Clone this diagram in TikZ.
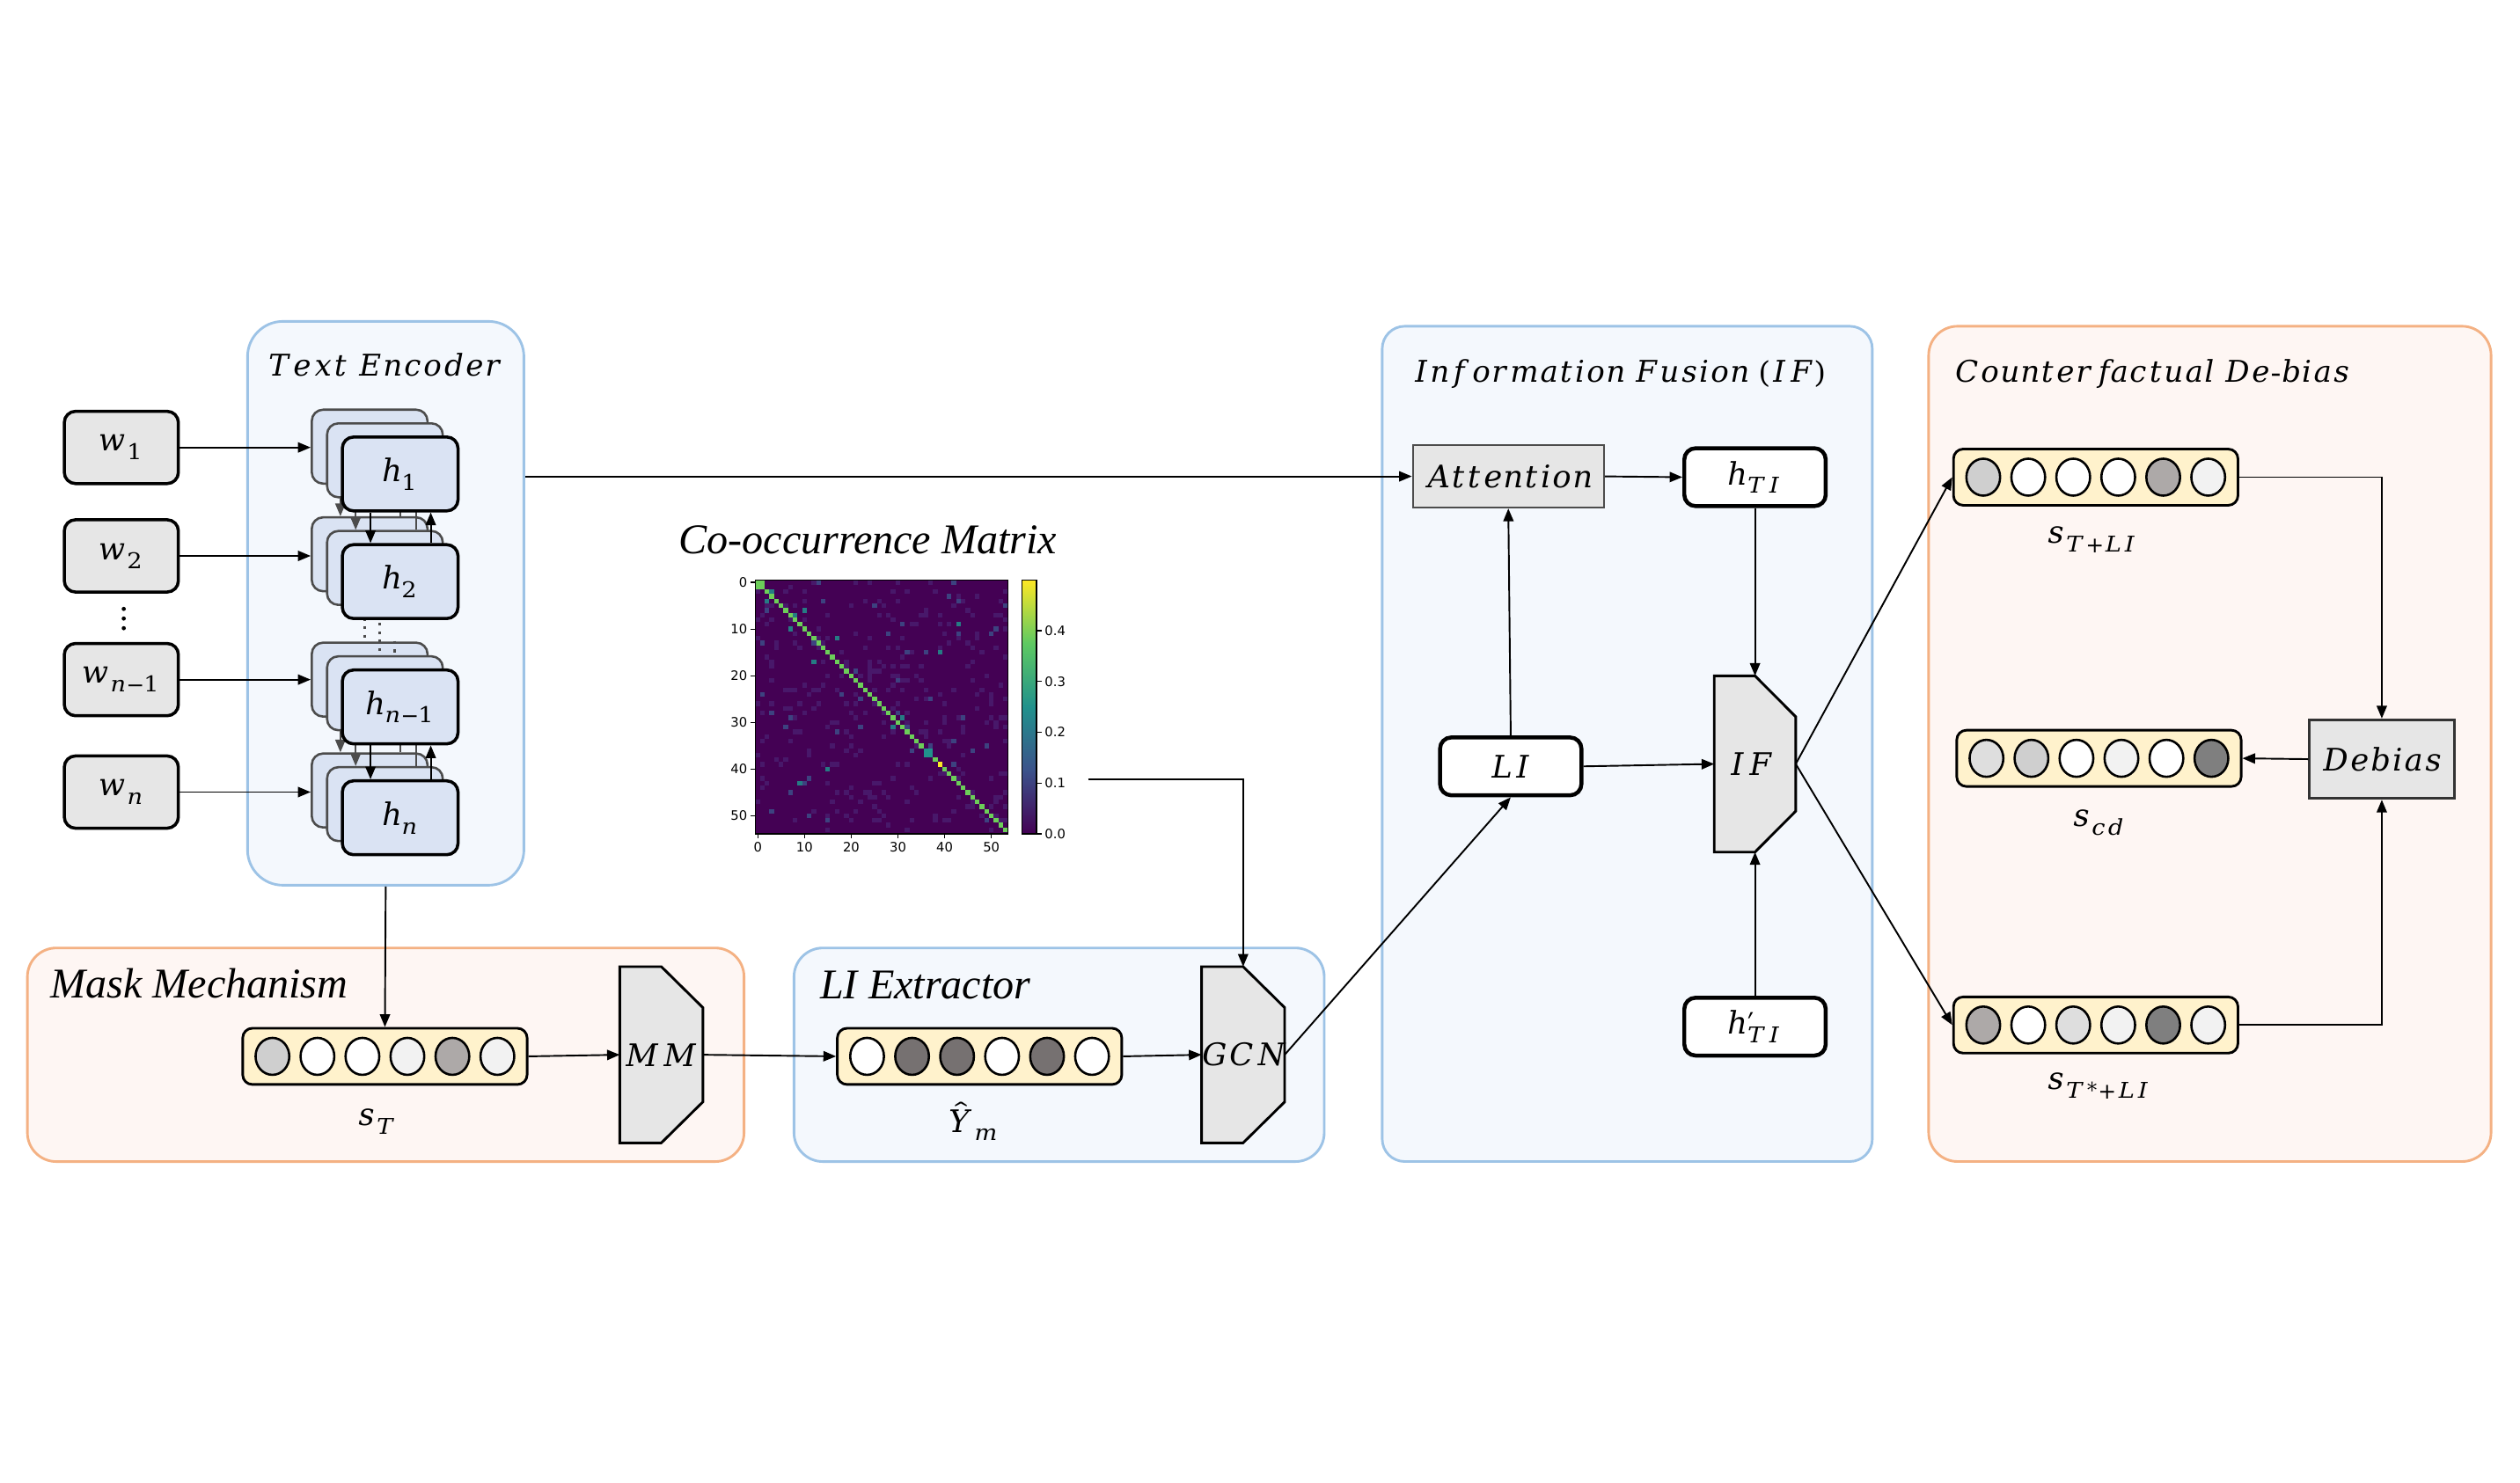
\documentclass[tikz,border=0pt]{standalone}
\usepackage{unicode-math}
\setmainfont{Liberation Serif}
\setsansfont{DejaVu Sans}
\setmathfont{DejaVu Math TeX Gyre}
\usetikzlibrary{arrows.meta,positioning,shapes.geometric}

\definecolor{panelblue}{HTML}{9DC3E6}
\definecolor{bluefill}{HTML}{F4F8FD}
\definecolor{panelorange}{HTML}{F4B183}
\definecolor{orangefill}{HTML}{FEF6F3}
\definecolor{boxgray}{HTML}{E6E6E6}
\definecolor{hblue}{HTML}{DAE3F3}
\definecolor{vecyellow}{HTML}{FFF2CC}
\definecolor{cA}{HTML}{F2F2F2}
\definecolor{cB}{HTML}{CFCFCF}
\definecolor{cC}{HTML}{ADA9A8}
\definecolor{cD}{HTML}{7F7F7F}
\definecolor{cE}{HTML}{767171}
\definecolor{cF}{HTML}{DEDEDE}
\definecolor{vir0}{HTML}{440154}
\definecolor{vir1}{HTML}{48186A}
\definecolor{virb}{HTML}{3B528B}
\definecolor{virc}{HTML}{21918C}
\definecolor{vird}{HTML}{5EC962}
\definecolor{vire}{HTML}{FDE725}
\definecolor{virg}{HTML}{6CCE59}
\pgfdeclareverticalshading{viridis}{100bp}{color(0bp)=(vir0); color(25bp)=(vir0);
  color(37.5bp)=(virb); color(50bp)=(virc); color(62.5bp)=(vird); color(75bp)=(vire);
  color(100bp)=(vire)}

\tikzset{
  bluepanel/.style={draw=panelblue, fill=bluefill, line width=0.9pt, rounded corners=0.36cm, inner sep=0pt},
  orangepanel/.style={draw=panelorange, fill=orangefill, line width=0.9pt, rounded corners=0.36cm, inner sep=0pt},
  title/.style={font=\fontsize{15}{18}\selectfont\itshape, inner sep=0pt},
  mtitle/.style={font=\fontsize{10.6}{13}\selectfont, inner sep=0pt},
  lbl/.style={font=\fontsize{11}{13}\selectfont, inner sep=0pt},
  wbox/.style={draw, line width=1.1pt, fill=boxgray, rounded corners=0.14cm, minimum width=1.42cm, minimum height=0.9cm, lbl},
  hback/.style={draw=black!70, line width=0.8pt, fill=hblue, rounded corners=0.14cm, minimum width=1.44cm, minimum height=0.92cm},
  hbox/.style={hback, draw=black, line width=1.1pt, lbl},
  plainbox/.style={draw, line width=1.4pt, fill=white, rounded corners=0.14cm, minimum width=1.76cm, minimum height=0.72cm, lbl},
  graybox/.style={draw=black!70, line width=0.6pt, fill=boxgray, lbl},
  vecbox/.style={draw, line width=0.9pt, fill=vecyellow, rounded corners=0.12cm, minimum width=3.54cm, minimum height=0.7cm},
  cell/.style={ellipse, draw, line width=0.8pt, minimum width=0.42cm, minimum height=0.46cm, inner sep=0pt},
  trapnode/.style={minimum width=1.02cm, minimum height=2.18cm, inner sep=0pt},
  trap/.style={draw, line width=0.9pt, fill=boxgray},
  arr/.style={-{Triangle[length=4.5pt,width=3.6pt]}, line width=0.6pt},
  garr/.style={arr, draw=black!70},
  tick/.style={font=\sffamily\fontsize{4.6}{5}\selectfont, inner sep=1pt},
}

\begin{document}
\begin{tikzpicture}[x=0.02cm,y=-0.02cm]
\useasboundingbox (0,0) rectangle (1568,923);

% panels
\node[bluepanel, rounded corners=0.44cm, minimum width=3.44cm, minimum height=7.02cm] (te) at (240,375.5) {};
\node[orangepanel, minimum width=8.92cm, minimum height=2.66cm] (mmp) at (240,656.5) {};
\node[bluepanel, minimum width=6.6cm, minimum height=2.66cm] (lip) at (659,656.5) {};
\node[bluepanel, rounded corners=0.28cm, minimum width=6.1cm, minimum height=10.4cm] (ifp) at (1012.5,463) {};
\node[orangepanel, minimum width=7cm, minimum height=10.4cm] (cdp) at (1375,463) {};

\node[mtitle] (tet) at (240,227) {$Text\ Encoder$};
\node[title, anchor=west] (mmt) at (31,612) {Mask Mechanism};
\node[title, anchor=west] (lit) at (510,613) {LI Extractor};
\node[title] (cot) at (540,336) {Co-occurrence Matrix};
\node[mtitle] (ift) at (1008,233) {$Information\ Fusion\ (IF)$};
\node[mtitle, anchor=west] (cdt) at (1216,233) {$Counterf\mkern-4mu actual\ De\text{-}bias$};

% words
\foreach \n/\y/\t in {1/278.5/w_1, 2/346/w_2, 3/423/w_{n-1}, 4/493/w_n}
  \node[wbox] (w\n) at (75.5,\y) {$\t$};
\foreach \d in {379,385,391}
  \fill (77,\d) circle (1.3);

% encoder stacks: back, middle, front
\foreach \n/\y in {1/295, 2/362, 3/440, 4/509}
  \node[hback] (ha\n) at (230,{\y-17}) {};
\foreach \u/\l in {1/2, 3/4} {
  \draw[garr] ([xshift=0.37cm]ha\u.south west) -- ([xshift=0.37cm]ha\l.north west);
  \draw[draw=black!70, line width=0.6pt] ([xshift=1.12cm]ha\l.north west) -- ([xshift=1.12cm]ha\u.south west);
}
\draw[dotted, line width=1pt, black!70] ([xshift=0.67cm]ha2.south west) -- ([xshift=0.67cm]ha3.north west);
\foreach \n/\y in {1/295, 2/362, 3/440, 4/509}
  \node[hback] (hb\n) at (239.5,{\y-8.5}) {};
\foreach \u/\l in {1/2, 3/4} {
  \draw[garr] ([xshift=0.37cm]hb\u.south west) -- ([xshift=0.37cm]hb\l.north west);
  \draw[draw=black!70, line width=0.6pt] ([xshift=1.12cm]hb\l.north west) -- ([xshift=1.12cm]hb\u.south west);
}
\draw[dotted, line width=1pt, black!70] ([xshift=0.67cm]hb2.south west) -- ([xshift=0.67cm]hb3.north west);
\foreach \n/\y/\t in {1/295/h_1, 2/362/h_2, 3/440/h_{n-1}, 4/509/h_n}
  \node[hbox] (h\n) at (249,\y) {$\t$};
\foreach \u/\l in {1/2, 3/4} {
  \draw[arr] ([xshift=0.37cm]h\u.south west) -- ([xshift=0.37cm]h\l.north west);
  \draw[arr] ([xshift=1.12cm]h\l.north west) -- ([xshift=1.12cm]h\u.south west);
}
\draw[dotted, line width=1pt, black!70] ([xshift=0.67cm,yshift=-0.26cm]h2.south west) -- ([xshift=0.67cm,yshift=0.14cm]h3.north west);
\foreach \n in {1,...,4}
  \draw[arr] (w\n.east) -- (w\n.east -| ha\n.west);

% vectors
\node[vecbox] (sT) at (239.5,657.5) {};
\foreach \c [count=\k] in {cB,white,white,cA,cC,cA}
  \node[cell, fill=\c] (sT\k) at ([xshift={(\k-3.5)*0.56cm}]sT.center) {};
\node[lbl] (sTl) at (235,698) {$s_T$};

\node[vecbox] (ym) at (609.5,657.5) {};
\foreach \c [count=\k] in {white,cE,cE,white,cE,white}
  \node[cell, fill=\c] (ym\k) at ([xshift={(\k-3.5)*0.56cm}]ym.center) {};
\node[lbl] (yml) at (606,698) {$\hat{Y}_m$};

\node[vecbox] (stli) at (1304,297) {};
\foreach \c [count=\k] in {cB,white,white,white,cC,cA}
  \node[cell, fill=\c] (stli\k) at ([xshift={(\k-3.5)*0.56cm}]stli.center) {};
\node[lbl] (stlil) at (1302,336) {$s_{T+LI}$};

\node[vecbox] (scd) at (1306,472) {};
\foreach \c [count=\k] in {cF,cB,white,cA,white,cD}
  \node[cell, fill=\c] (scd\k) at ([xshift={(\k-3.5)*0.56cm}]scd.center) {};
\node[lbl] (scdl) at (1306,512) {$s_{cd}$};

\node[vecbox] (stsli) at (1304,638) {};
\foreach \c [count=\k] in {cC,white,cF,cA,cD,cA}
  \node[cell, fill=\c] (stsli\k) at ([xshift={(\k-3.5)*0.56cm}]stsli.center) {};
\node[lbl] (stslil) at (1306,676) {$s_{T^*+LI}$};

% trapezoids
\node[trapnode] (mmb) at (411.5,656.5) {};
\node[trapnode] (gcn) at (773.5,656.5) {};
\node[trapnode, minimum width=1cm] (ifb) at (1092,475.5) {};
\foreach \s in {mmb,gcn,ifb}
  \draw[trap] (\s.north west) -- (\s.north) -- ([yshift=-0.51cm]\s.north east)
    -- ([yshift=0.51cm]\s.south east) -- (\s.south) -- (\s.south west) -- cycle;
\node[lbl] (mml) at (mmb) {$MM$};
\node[lbl] (gcnl) at ([xshift=0.03cm]gcn.center) {$GCN$};
\node[lbl] (ifl) at ([xshift=-0.04cm]ifb.center) {$IF$};

% fusion boxes
\node[graybox, minimum width=2.38cm, minimum height=0.78cm] (att) at (938.5,296.5) {$Attention$};
\node[plainbox] (hti) at (1092,297) {$h_{TI}$};
\node[plainbox] (li) at (940,477) {$LI$};
\node[plainbox] (htip) at (1092,639) {$h'_{TI}$};
\node[graybox, draw=black!80, line width=0.9pt, minimum width=1.8cm, minimum height=0.98cm] (deb) at (1482,472.5) {$Debias$};

% co-occurrence matrix
\fill[vir0] (470,361) rectangle (627,519);
\pgfmathsetseed{11}
\foreach \k in {1,...,320} {
  \pgfmathrandominteger{\ci}{0}{53}
  \pgfmathrandominteger{\cj}{0}{53}
  \fill[vir1] ({470+\ci*2.907},{361+\cj*2.907}) rectangle ++(2.907,2.907);
}
\foreach \k in {1,...,45} {
  \pgfmathrandominteger{\ci}{0}{53}
  \pgfmathrandominteger{\cj}{0}{53}
  \fill[virb!80!vir0] ({470+\ci*2.907},{361+\cj*2.907}) rectangle ++(2.907,2.907);
}
\foreach \ci/\cj in {3/2, 2/4, 8/7, 10/6, 7/10, 17/12, 39/15, 12/17, 31/29, 29/31, 15/40, 9/43, 43/9}
  \fill[virc!85!vir0] ({470+\ci*2.907},{361+\cj*2.907}) rectangle ++(2.907,2.907);
\foreach \i in {1,...,53}
  \fill[virg] ({470+\i*2.907},{361+\i*2.907}) rectangle ++(2.907,2.907);
\fill[virg] (470,361) rectangle ++(5.8,5.8);
\fill[virc] ({470+36*2.907},{361+36*2.907}) rectangle ++(5.8,5.8);
\fill[vire] ({470+39*2.907},{361+39*2.907}) rectangle ++(2.907,2.907);
\draw[line width=0.4pt] (470,361) rectangle (627,519);
\foreach \v in {0,10,20,30,40,50} {
  \draw[line width=0.4pt] (470,{362.5+\v*2.907}) -- ++(-3,0) node[tick, anchor=east] (yt\v) {\v};
  \draw[line width=0.4pt] ({471.5+\v*2.907},519) -- ++(0,3) node[tick, anchor=north] (xt\v) {\v};
}
\shade[shading=viridis] (636,361) rectangle (645,519);
\draw[line width=0.4pt] (636,361) rectangle (645,519);
\foreach \v/\t in {0/0.0, 1/0.1, 2/0.2, 3/0.3, 4/0.4}
  \draw[line width=0.4pt] (645,{519-\v*31.6}) -- ++(3,0) node[tick, anchor=west] (cb\v) {\t};
\coordinate (cbar) at (677,485);

% connectors
\draw[arr] (te.east |- att.west) -- (att.west);
\draw[arr] (te.south) -- (sT.north);
\draw[arr] (sT.east) -- (mmb.west);
\draw[arr] (mmb.east) -- (ym.west);
\draw[arr] (ym.east) -- (gcn.west);
\draw[arr] (cbar) -| (gcn.north);
\draw[arr] (gcn.east) -- (li.south);
\draw[arr] (li.north) -- (att.south);
\draw[arr] (att.east) -- (hti.west);
\draw[arr] (hti.south) -- (ifb.north);
\draw[arr] (htip.north) -- (ifb.south);
\draw[arr] (li.east) -- (ifb.west);
\draw[arr] (ifb.east) -- (stli.west);
\draw[arr] (ifb.east) -- (stsli.west);
\draw[arr] (stli.east) -| (deb.north);
\draw[arr] (stsli.east) -| (deb.south);
\draw[arr] (deb.west) -- (scd.east);
\end{tikzpicture}
\end{document}
